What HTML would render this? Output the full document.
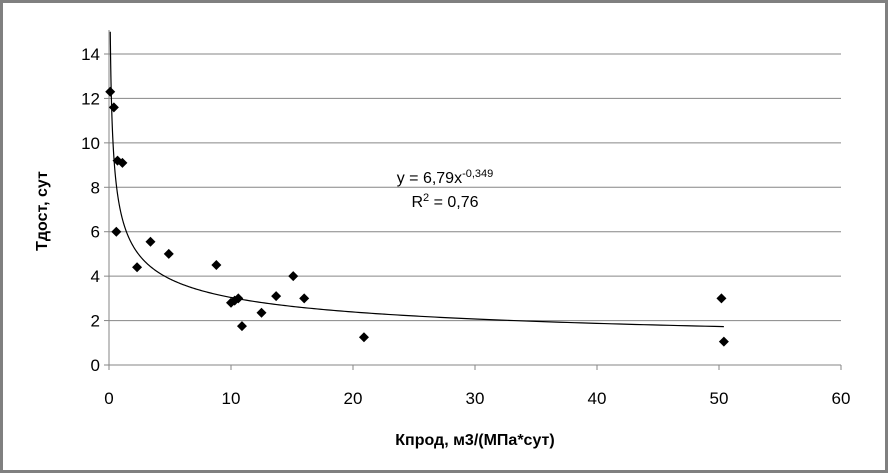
<!DOCTYPE html>
<html><head><meta charset="utf-8"><style>
body{margin:0;background:#fff;}
svg{display:block;font-family:"Liberation Sans",sans-serif;}
</style></head><body>
<svg width="889" height="473">
<rect x="1.5" y="1.5" width="885" height="470" fill="#fff" stroke="#808080" stroke-width="3"/>
<g id="grid"></g><g id="axes"></g><g id="marks"></g>
<text x="445" y="183" font-size="16" text-anchor="middle">y = 6,79x<tspan dy="-6" font-size="11">-0,349</tspan></text>
<text x="445" y="207" font-size="16" text-anchor="middle">R<tspan dy="-6" font-size="11">2</tspan><tspan dy="6"> = 0,76</tspan></text>
<text x="475" y="445" font-size="16" font-weight="bold" text-anchor="middle">Кпрод, м3/(МПа*сут)</text>
<text transform="translate(47,211) rotate(-90)" font-size="16" font-weight="bold" text-anchor="middle">Тдост, сут</text>
</svg>
<script>
const xTicks=[0,10,20,30,40,50,60];
const yTicks=[0,2,4,6,8,10,12,14];
const xVals=[0.1,0.4,0.7,1.1,0.6,2.3,3.4,4.9,8.8,10.0,10.3,10.6,10.9,12.5,13.7,15.1,16.0,20.9,50.2,50.4];
const yVals=[12.3,11.6,9.2,9.1,6.0,4.4,5.55,5.0,4.5,2.8,2.9,3.0,1.75,2.35,3.1,4.0,3.0,1.25,3.0,1.05];
const coefA=6.79, coefB=-0.349;
const NS="http://www.w3.org/2000/svg";
const X0=109,X1=841,Y0=365,Y14=54;
const sx=v=>X0+(X1-X0)*v/60;
const sy=v=>Y0-(Y0-Y14)*v/14;
function mk(t,a,p){const e=document.createElementNS(NS,t);for(const k in a)e.setAttribute(k,a[k]);p.appendChild(e);return e;}
const grid=document.getElementById('grid'),axes=document.getElementById('axes'),marks=document.getElementById('marks');
yTicks.forEach(v=>{
 if(v>0){const l=mk('line',{x1:X0,x2:X1,y1:sy(v),y2:sy(v),stroke:'#868686'},grid);
 
 }
 const t=mk('text',{x:X0-9,y:sy(v)+6,'font-size':17,'text-anchor':'end'},axes);t.textContent=v;
 
 
 mk('line',{x1:X0-5,x2:X0,y1:sy(v),y2:sy(v),stroke:'#868686'},axes);
});
xTicks.forEach(v=>{
 const t=mk('text',{x:sx(v),y:Y0+39,'font-size':17,'text-anchor':'middle'},axes);t.textContent=v;
 
 
 mk('line',{x1:sx(v),x2:sx(v),y1:Y0,y2:Y0+5,stroke:'#868686'},axes);
});
const ya=mk('line',{x1:X0,x2:X0,y1:Y14-24,y2:Y0,stroke:'#868686'},axes);


const xa=mk('line',{x1:X0,x2:X1,y1:Y0,y2:Y0,stroke:'#868686'},axes);


let d='';const xmin=Math.pow(15/coefA,1/coefB),xmax=Math.max(...xVals);
for(let i=0;i<=400;i++){const v=xmin*Math.pow(xmax/xmin,i/400);d+=(i?'L':'M')+sx(v).toFixed(2)+','+sy(coefA*Math.pow(v,coefB)).toFixed(2);}
const tr=mk('path',{d:d,fill:'none',stroke:'#000','stroke-width':1.2},marks);


xVals.forEach((v,i)=>{const x=sx(v),y=sy(yVals[i]);
 const p=mk('polygon',{points:`${x},${y-5} ${x+5},${y} ${x},${y+5} ${x-5},${y}`,fill:'#000'},marks);
 
 });
</script>
</body></html>
